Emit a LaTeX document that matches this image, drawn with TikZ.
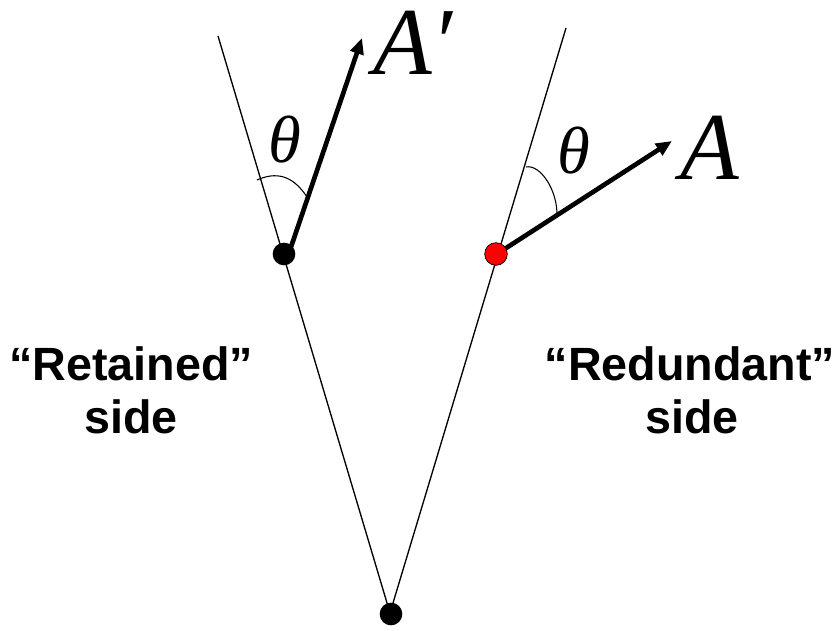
\documentclass[tikz,border=0pt]{standalone}
\usepackage{fontspec}
\setmainfont{Liberation Serif}
\setsansfont{Liberation Sans}
\usetikzlibrary{arrows.meta}
\begin{document}
\begin{tikzpicture}[x=0.75pt,y=-0.75pt,
  ray/.style={line width=1pt},
  vec/.style={line width=3.5pt,-{Triangle[length=12pt,width=10pt]}},
  anglearc/.style={line width=0.8pt},
  dot/.style={circle,fill=black,inner sep=0pt,minimum size=17pt},
  reddot/.style={circle,fill=red,draw=black,line width=0.5pt,inner sep=0pt,minimum size=17pt},
  biglabel/.style={font=\fontsize{72}{80}\selectfont\itshape,inner sep=0pt},
  thlabel/.style={font=\fontsize{50}{56}\selectfont\itshape,inner sep=0pt},
  sidelabel/.style={font=\sffamily\bfseries\fontsize{35}{40}\selectfont,align=center,inner sep=0pt}]
\useasboundingbox (0,0) rectangle (839,631);
% geometry
\coordinate (lt) at (218,36);
\coordinate (rt) at (566,28);
\coordinate (vtx) at (390,613);
\draw[ray] (lt) -- (vtx);
\draw[ray] (rt) -- (vtx);
% arrows
\coordinate (ls) at (291,247);
\coordinate (le) at (362,38);
\coordinate (rs) at (500,252);
\coordinate (re) at (672,141);
\draw[vec] (ls) -- (le);
\draw[vec] (rs) -- (re);
% arcs
\draw[anglearc] (257,180) .. controls (275,172) and (292,174) .. (307,197);
\draw[anglearc] (526,167) .. controls (540,164) and (558,190) .. (557,217);
% dots
\node[dot] (pl) at (284,254) {};
\node[reddot] (pr) at (496,254) {};
\node[dot] (pv) at (391,614) {};
% labels
\node[biglabel,anchor=base west] (Ap) at (373,75) {A′};
\node[biglabel,anchor=base west] (A) at (680,180) {A};
\node[thlabel,anchor=base] (thl) at (285,163) {θ};
\node[thlabel,anchor=base] (thr) at (574,174) {θ};
\node[sidelabel,anchor=base] (ret) at (131,380) {“Retained”};
\node[sidelabel,anchor=base] (retb) at (131,433) {side};
\node[sidelabel,anchor=base] (red) at (690,380) {“Redundant”};
\node[sidelabel,anchor=base] (redb) at (692,433) {side};
\end{tikzpicture}
\end{document}
